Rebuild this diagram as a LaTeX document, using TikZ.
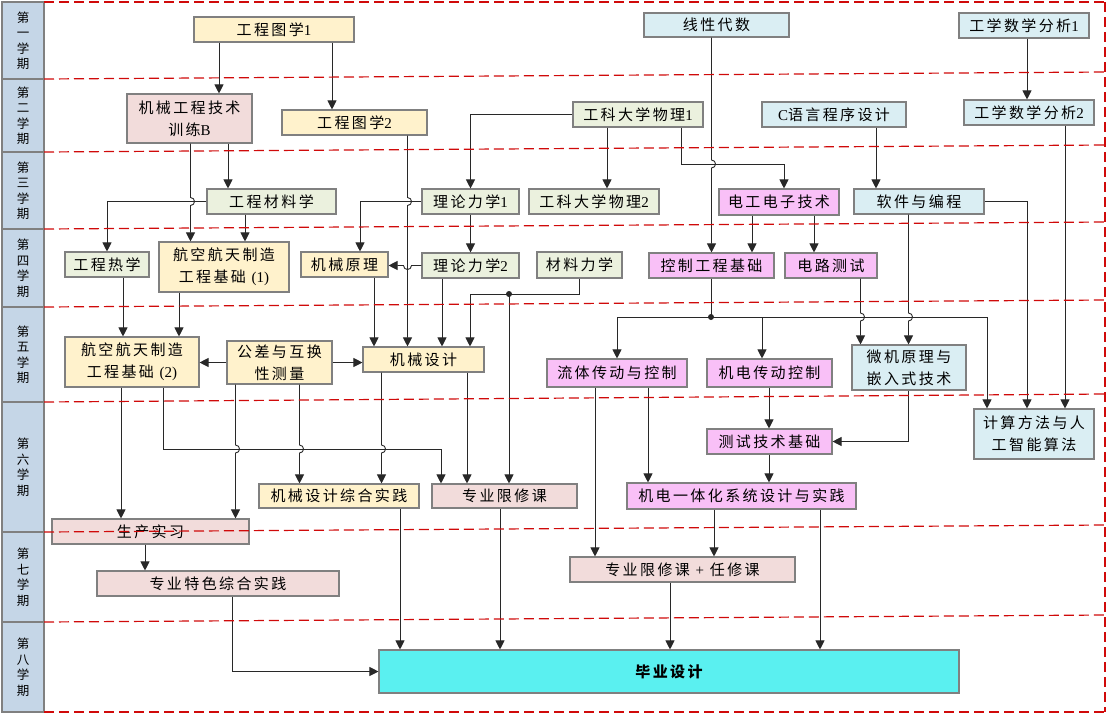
\documentclass[tikz,border=0pt]{standalone}
\usepackage{fontspec}
\setmainfont{Liberation Serif}
\newfontfamily\cjk[LetterSpace=16]{Noto Sans CJK SC}
\newfontfamily\cjkcol{Noto Sans CJK SC}
\newcommand\latn[1]{{\rmfamily #1}}
\usetikzlibrary{arrows.meta}
\definecolor{cyel}{RGB}{255,242,204}
\definecolor{cpink}{RGB}{242,220,219}
\definecolor{cgreen}{RGB}{235,241,222}
\definecolor{cblue}{RGB}{218,238,243}
\definecolor{cmag}{RGB}{249,192,247}
\definecolor{ccyan}{RGB}{90,240,240}
\definecolor{ccol}{RGB}{197,214,231}
\definecolor{cborder}{RGB}{128,128,128}
\definecolor{cred}{RGB}{208,10,10}
\definecolor{cline}{RGB}{40,40,40}
\tikzset{
  box/.style={draw=cborder, line width=1.1pt, inner sep=0pt, align=center,
    font=\cjk\fontsize{15}{22}\selectfont, text=black},
  sz/.style 2 args={minimum width=#1pt, minimum height=#2pt},
  yel/.style={box, fill=cyel},
  pinkbox/.style={box, fill=cpink},
  greenbox/.style={box, fill=cgreen},
  bluebox/.style={box, fill=cblue},
  magbox/.style={box, fill=cmag},
  cyanbox/.style={box, fill=ccyan},
  sem/.style={draw=cborder, line width=1.1pt, fill=ccol, minimum width=42pt,
    inner sep=0pt, align=center, font=\cjkcol\fontsize{12.5}{15.5}\selectfont},
  ln/.style={draw=cline, line width=0.9pt},
  arr/.style={ln, -{Triangle[length=9pt,width=9pt]}},
  redline/.style={draw=cred, line width=1.2pt, dash pattern=on 10pt off 5pt},
}
\begin{document}
\begin{tikzpicture}[x=1pt,y=-1pt]
\useasboundingbox (0,0) rectangle (1109,716);
\fill[white] (0,0) rectangle (1109,716);

% semester column
\node[sem, minimum height=77pt] (s1) at (23,40.5) {第\\一\\学\\期};
\node[sem, minimum height=73pt] (s2) at (23,115.5) {第\\二\\学\\期};
\node[sem, minimum height=77pt] (s3) at (23,190.5) {第\\三\\学\\期};
\node[sem, minimum height=78pt] (s4) at (23,268) {第\\四\\学\\期};
\node[sem, minimum height=95pt] (s5) at (23,354.5) {第\\五\\学\\期};
\node[sem, minimum height=130pt] (s6) at (23,467) {第\\六\\学\\期};
\node[sem, minimum height=90pt] (s7) at (23,577) {第\\七\\学\\期};
\node[sem, minimum height=90pt] (s8) at (23,667) {第\\八\\学\\期};

% courses
\node[yel,sz={160}{25}] (g1) at (274,29.5) {工程图学\latn{1}};
\node[bluebox,sz={145}{24}] (xd) at (716.5,25) {线性代数};
\node[bluebox,sz={130}{25}] (sx1) at (1024,25.5) {工学数学分析\latn{1}};
\node[pinkbox,sz={125}{49}] (xl) at (189.5,118.5) {机械工程技术\\训练\latn{B}};
\node[yel,sz={145}{25}] (g2) at (354.5,122.5) {工程图学\latn{2}};
\node[greenbox,sz={130}{25}] (wl1) at (638,114.5) {工科大学物理\latn{1}};
\node[bluebox,sz={144}{25}] (cy) at (834,114.5) {\latn{C}语言程序设计};
\node[bluebox,sz={130}{25}] (sx2) at (1029,112.5) {工学数学分析\latn{2}};
\node[greenbox,sz={129}{25}] (cl) at (271.5,201.5) {工程材料学};
\node[greenbox,sz={97}{25}] (ll1) at (470.5,201.5) {理论力学\latn{1}};
\node[greenbox,sz={130}{25}] (wl2) at (594,201.5) {工科大学物理\latn{2}};
\node[magbox,sz={120}{26}] (dg) at (779,202) {电工电子技术};
\node[bluebox,sz={130}{25}] (rj) at (919,201.5) {软件与编程};
\node[greenbox,sz={84}{25}] (rx) at (107,264.5) {工程热学};
\node[yel,sz={130}{50}] (hk1) at (224,267) {航空航天制造\\工程基础 \latn{(1)}};
\node[yel,sz={87}{25}] (jy) at (344.5,264.5) {机械原理};
\node[greenbox,sz={97}{25}] (ll2) at (470.5,265.5) {理论力学\latn{2}};
\node[greenbox,sz={85}{26}] (cl2) at (579.5,265) {材料力学};
\node[magbox,sz={125}{25}] (kz) at (711.5,265.5) {控制工程基础};
\node[magbox,sz={92}{25}] (dl) at (831,265.5) {电路测试};
\node[yel,sz={134}{50}] (hk2) at (132,362) {航空航天制造\\工程基础 \latn{(2)}};
\node[yel,sz={105}{43}] (gc) at (279.5,362.5) {公差与互换\\性测量};
\node[yel,sz={121}{25}] (jx) at (423.5,359.5) {机械设计};
\node[magbox,sz={140}{28}] (lt) at (617,373) {流体传动与控制};
\node[magbox,sz={125}{28}] (jd) at (769.5,373) {机电传动控制};
\node[bluebox,sz={114}{45}] (wj) at (909,367.5) {微机原理与\\嵌入式技术};
\node[bluebox,sz={120}{50}] (js) at (1034,434) {计算方法与人\\工智能算法};
\node[magbox,sz={125}{25}] (cs) at (769.5,441.5) {测试技术基础};
\node[magbox,sz={229}{26}] (jdy) at (741.5,496) {机电一体化系统设计与实践};
\node[yel,sz={160}{24}] (jzh) at (339,496) {机械设计综合实践};
\node[pinkbox,sz={145}{24}] (zx) at (504.5,496) {专业限修课};
\node[pinkbox,sz={197}{25}] (sc) at (150.5,531.5) {生产实习};
\node[pinkbox,sz={242}{25}] (ts) at (218,583.5) {专业特色综合实践};
\node[pinkbox,sz={225}{25}] (zr) at (682.5,569.5) {专业限修课 \latn{+} 任修课};
\node[cyanbox,sz={580}{43}] (by) at (669,671.5) {\bfseries 毕业设计};

% connectors
\draw[arr] (g1.south -| 219,0) -- (xl.north -| 219,0);
\draw[arr] (g1.south -| 332,0) -- (g2.north -| 332,0);
\draw[arr] (xl.south -| 228,0) -- (cl.north -| 228,0);
\draw[arr] (xl.south -| 190.5,0) -- (190.5,197.5) .. controls (195.8,197.5) and (195.8,205.5) .. (190.5,205.5) -- (hk1.north -| 190.5,0);
\draw[arr] (cl.west) -| (rx.north);
\draw[arr] (cl.south -| 245,0) -- (hk1.north -| 245,0);
\draw[arr] (ll1.west) -| (jy.north -| 360,0);
\draw[arr] (g2.south -| 407.5,0) -- (407.5,197.5) .. controls (412.8,197.5) and (412.8,205.5) .. (407.5,205.5) -- (jx.north -| 407.5,0);
\draw[arr] (ll1.south) -- (ll2.north);
\draw[arr] (ll2.west) -- (411.5,265.5) .. controls (411.5,270.8) and (403.5,270.8) .. (403.5,265.5) -- (jy.east |- ll2.west);
\draw[arr] (wl1.west) -| (ll1.north);
\draw[arr] (wl1.south -| 607,0) -- (wl2.north -| 607,0);
\draw[arr] (wl1.south -| 681,0) |- (784,164) -- (dg.north -| 784,0);
\draw[arr] (xd.south -| 711.5,0) -- (711.5,160) .. controls (716.8,160) and (716.8,168) .. (711.5,168) -- (kz.north -| 711.5,0);
\draw[arr] (dg.south -| 752,0) -- (kz.north -| 752,0);
\draw[arr] (dg.south -| 814,0) -- (dl.north -| 814,0);
\draw[arr] (cy.south -| 876,0) -- (rj.north -| 876,0);
\draw[arr] (sx1.south -| 1027,0) -- (sx2.north -| 1027,0);
\draw[arr] (sx2.south -| 1065,0) -- (js.north -| 1065,0);
\draw[arr] (rj.east) -| (js.north -| 1027,0);

\coordinate (bus) at (711,317);
\draw[ln] (kz.south -| 711,0) -- (bus);
\draw[arr] (bus) -| (lt.north);
\draw[arr] (bus) -| (jd.north -| 762,0);
\draw[arr] (bus) -| (js.north -| 987,0);
\fill[cline] (bus) circle[radius=3pt];
\draw[arr] (rj.south -| 908.5,0) -- (908.5,313) .. controls (913.8,313) and (913.8,321) .. (908.5,321) -- (wj.north -| 908.5,0);
\draw[arr] (dl.south -| 860.5,0) -- (860.5,313) .. controls (865.8,313) and (865.8,321) .. (860.5,321) -- (wj.north -| 860.5,0);

\coordinate (mdot) at (509,294);
\draw[ln] (cl2.south -| 579,0) |- (mdot);
\draw[arr] (mdot) -| (jx.north -| 470,0);
\draw[arr] (mdot) -- (zx.north -| 509,0);
\fill[cline] (mdot) circle[radius=3pt];
\draw[arr] (jy.south -| 374,0) -- (jx.north -| 374,0);
\draw[arr] (ll2.south -| 442,0) -- (jx.north -| 442,0);

\draw[arr] (rx.south -| 123,0) -- (hk2.north -| 123,0);
\draw[arr] (hk1.south -| 179,0) -- (hk2.north -| 179,0);
\draw[arr] (gc.west) -- (gc.west -| hk2.east);
\draw[arr] (gc.east) -- (gc.east -| jx.west);
\draw[arr] (hk2.south -| 121,0) -- (sc.north -| 121,0);
\draw[arr] (hk2.south -| 163,0) |- (441,449) -- (zx.north -| 441,0);
\draw[arr] (gc.south -| 235.5,0) -- (235.5,445) .. controls (240.8,445) and (240.8,453) .. (235.5,453) -- (sc.north -| 235.5,0);
\draw[arr] (gc.south -| 299.5,0) -- (299.5,445) .. controls (304.8,445) and (304.8,453) .. (299.5,453) -- (jzh.north -| 299.5,0);
\draw[arr] (jx.south -| 381.5,0) -- (381.5,445) .. controls (386.8,445) and (386.8,453) .. (381.5,453) -- (jzh.north -| 381.5,0);
\draw[arr] (jx.south -| 467,0) -- (zx.north -| 467,0);

\draw[arr] (lt.south -| 595,0) -- (zr.north -| 595,0);
\draw[arr] (lt.south -| 648,0) -- (jdy.north -| 648,0);
\draw[arr] (jd.south -| 769,0) -- (cs.north -| 769,0);
\draw[arr] (wj.south -| 908,0) |- (cs.east);
\draw[arr] (cs.south -| 769,0) -- (jdy.north -| 769,0);
\draw[arr] (jdy.south -| 714,0) -- (zr.north -| 714,0);
\draw[arr] (jdy.south -| 820,0) -- (by.north -| 820,0);
\draw[arr] (zr.south -| 670,0) -- (by.north -| 670,0);
\draw[arr] (zx.south -| 500,0) -- (by.north -| 500,0);
\draw[arr] (jzh.south -| 400,0) -- (by.north -| 400,0);
\draw[arr] (sc.south -| 145,0) -- (ts.north -| 145,0);
\draw[arr] (ts.south -| 232,0) |- (by.west);

% semester separators
\draw[redline] (44,2) -- (1105,2);
\draw[redline] (44,79) -- (1105,72);
\draw[redline] (44,152) -- (1105,145);
\draw[redline] (44,229) -- (1105,222);
\draw[redline] (44,307) -- (1105,300);
\draw[redline] (44,402) -- (1105,394);
\draw[redline] (44,532) -- (1105,525);
\draw[redline] (44,622) -- (1105,615);
\draw[redline] (44,712) -- (1105,712);
\draw[redline] (1105,2) -- (1105,712);
\end{tikzpicture}
\end{document}
